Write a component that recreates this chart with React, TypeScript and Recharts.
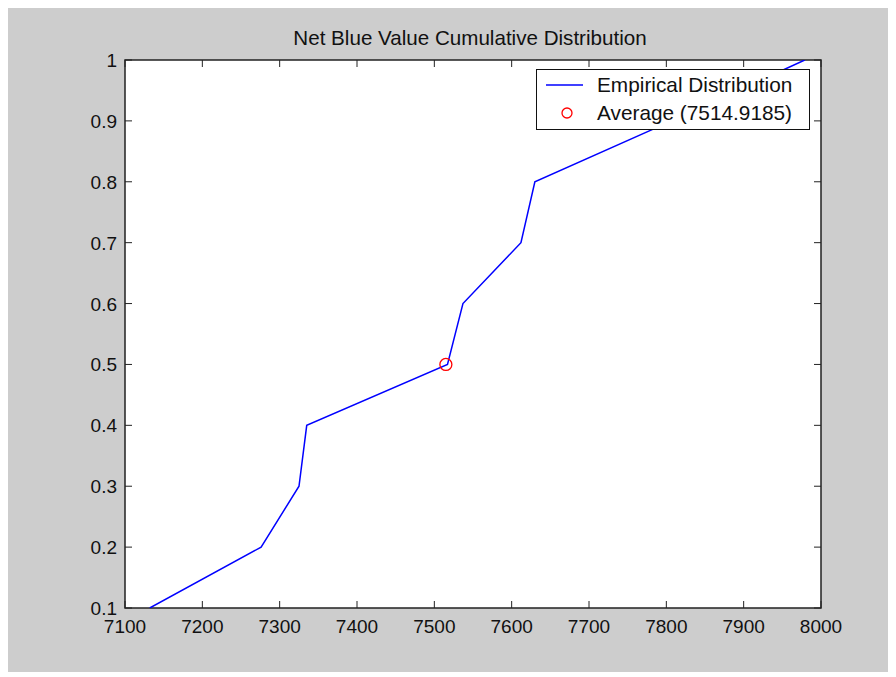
import {
  CartesianGrid,
  ComposedChart,
  Legend,
  Line,
  ReferenceArea,
  Scatter,
  XAxis,
  YAxis
} from "recharts";

const netBlueValues = [7132, 7276, 7325, 7335, 7517, 7537, 7612, 7630, 7807, 7979];
const cumulativeProb = [0.1, 0.2, 0.3, 0.4, 0.5, 0.6, 0.7, 0.8, 0.9, 1];
const averageValue = 7514.9185;
const averageProb = 0.5;

const xTicks = [7100, 7200, 7300, 7400, 7500, 7600, 7700, 7800, 7900, 8000];
const yTicks = [0.1, 0.2, 0.3, 0.4, 0.5, 0.6, 0.7, 0.8, 0.9, 1];

const FONT = "'Liberation Sans', Arial, Helvetica, sans-serif";
const W = 880;
const H = 664;
const PLOT_TOP = 52;
const PLOT_RIGHT = 813;
const TICK = 7;

const distData = netBlueValues.map((x, i) => ({ x, p: cumulativeProb[i] }));
const avgData = [{ x: averageValue, p: averageProb }];

function XTick(props: any) {
  const { x, y, payload } = props;
  return (
    <g>
      <line x1={x} y1={y} x2={x} y2={y - TICK} stroke="#222" />
      <line x1={x} y1={PLOT_TOP} x2={x} y2={PLOT_TOP + TICK} stroke="#222" />
      <text x={x} y={y + 25} textAnchor="middle" fontSize={19} fontFamily={FONT} fill="#111">
        {payload.value}
      </text>
    </g>
  );
}

function YTick(props: any) {
  const { x, y, payload } = props;
  return (
    <g>
      <line x1={x} y1={y} x2={x + TICK} y2={y} stroke="#222" />
      <line x1={PLOT_RIGHT} y1={y} x2={PLOT_RIGHT - TICK} y2={y} stroke="#222" />
      <text x={x - 8} y={y + 7} textAnchor="end" fontSize={19} fontFamily={FONT} fill="#111">
        {String(payload.value)}
      </text>
    </g>
  );
}

function LegendBox() {
  return (
    <svg width={274} height={61} style={{ display: "block" }}>
      <rect x={0.5} y={0.5} width={273} height={60} fill="#fff" stroke="#111" />
      <line x1={10} y1={16} x2={47} y2={16} stroke="#0000ff" strokeWidth={1.5} />
      <text x={61} y={23} fontSize={20.8} fontFamily={FONT} fill="#111">
        Empirical Distribution
      </text>
      <circle cx={31} cy={44} r={5} fill="none" stroke="#ff0000" strokeWidth={1.3} />
      <text x={61} y={51} fontSize={20.8} fontFamily={FONT} fill="#111">
        {`Average (${averageValue})`}
      </text>
    </svg>
  );
}

function AvgMarker(props: any) {
  const { cx, cy } = props;
  return <circle cx={cx} cy={cy} r={6} fill="none" stroke="#ff0000" strokeWidth={1.3} />;
}

export default function App() {
  return (
    <div style={{ position: "relative", width: W, height: H, background: "#cdcdcd" }}>
      <div
        style={{
          position: "absolute",
          left: 0,
          width: 924,
          top: 20,
          textAlign: "center",
          fontFamily: FONT,
          fontSize: 20.6,
          color: "#111",
          lineHeight: "20px"
        }}
      >
        Net Blue Value Cumulative Distribution
      </div>
      <ComposedChart
        width={W}
        height={H}
        margin={{ top: PLOT_TOP, right: W - PLOT_RIGHT, left: 0, bottom: 0 }}
      >
        <CartesianGrid fill="#ffffff" horizontal={false} vertical={false} />
        <XAxis
          dataKey="x"
          type="number"
          domain={[7100, 8000]}
          ticks={xTicks}
          allowDataOverflow
          height={64}
          tickSize={0}
          tickMargin={0}
          tickLine={false}
          axisLine={false}
          tick={<XTick />}
        />
        <YAxis
          dataKey="p"
          type="number"
          domain={[0.1, 1]}
          ticks={yTicks}
          allowDataOverflow
          width={117}
          tickSize={0}
          tickMargin={0}
          tickLine={false}
          axisLine={false}
          tick={<YTick />}
        />
        <ReferenceArea
          x1={7100}
          x2={8000}
          y1={0.1}
          y2={1}
          fill="none"
          fillOpacity={0}
          stroke="#222"
          strokeWidth={1.5}
        />
        <Line
          data={distData}
          dataKey="p"
          type="linear"
          stroke="#0000ff"
          strokeWidth={1.5}
          dot={false}
          activeDot={false}
          isAnimationActive={false}
        />
        <Scatter
          data={avgData}
          dataKey="p"
          shape={<AvgMarker />}
          isAnimationActive={false}
        />
        <Legend
          layout="vertical"
          align="center"
          verticalAlign="middle"
          content={<LegendBox />}
          wrapperStyle={{ left: 528, top: 61, width: 274, height: 61 }}
        />
      </ComposedChart>
    </div>
  );
}
